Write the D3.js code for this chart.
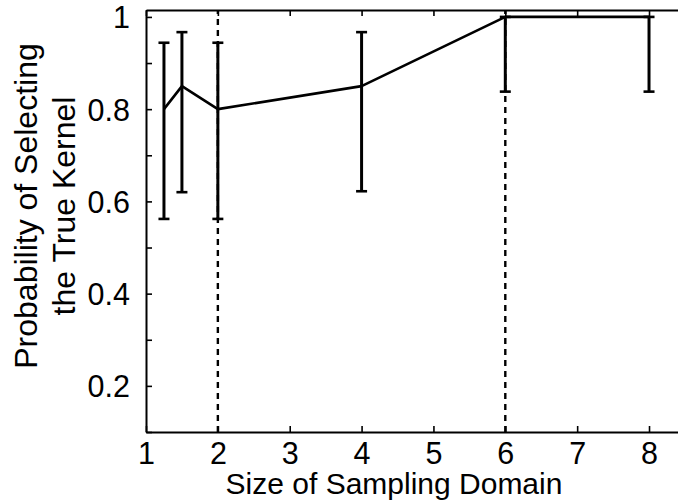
<!DOCTYPE html>
<html>
<head>
<meta charset="utf-8">
<script src="https://cdn.jsdelivr.net/npm/d3@7"></script>
<style>
  body { margin: 0; background: #fff; }
  text { font-family: "Liberation Sans", Arial, sans-serif; fill: #000; }
</style>
</head>
<body>
<div id="chart"></div>
<script>
// values
var domain_size = [1.25, 1.5, 2, 4, 6, 8];
var prob_true   = [0.80, 0.85, 0.80, 0.85, 1.00, 1.00];
var err_low     = [0.562, 0.62, 0.562, 0.622, 0.838, 0.838];
var err_high    = [0.944, 0.967, 0.944, 0.967, 1.00, 1.00];
var dashed_at   = [2, 6];
var x_ticks     = [1, 2, 3, 4, 5, 6, 7, 8];
var y_ticks     = [0.1, 0.2, 0.3, 0.4, 0.5, 0.6, 0.7, 0.8, 0.9, 1.0];
var y_labels    = [0.2, 0.4, 0.6, 0.8, 1];

var svg_width = 678;
var svg_height = 502;
var margin = { top: 10, left: 146, bottom: 70 };

var svg = d3.select("#chart").append("svg")
            .attr("width", svg_width)
            .attr("height", svg_height);

var x_scale = d3.scaleLinear()
                .domain([1, 8.45])
                .range([margin.left, margin.left + 7.45 * 71.86]);
var y_scale = d3.scaleLinear()
                .domain([0.1, 1.015])
                .range([svg_height - margin.bottom, margin.top]);

var x0 = x_scale.range()[0], x1 = x_scale.range()[1];
var y0 = y_scale.range()[0], y1 = y_scale.range()[1];

// axes, ticks pointing inward like matlab
var fmt = function(d) { return y_labels.indexOf(+d.toFixed(1)) >= 0 ? d3.format("")(+d.toFixed(1)) : ""; };

var bottom = svg.append("g")
     .attr("transform", `translate(0, ${y0})`)
     .call(d3.axisBottom(x_scale).tickValues(x_ticks).tickSizeInner(-6).tickSizeOuter(0).tickPadding(10));
var top_ax = svg.append("g")
     .attr("transform", `translate(0, ${y1})`)
     .call(d3.axisTop(x_scale).tickValues(x_ticks).tickSizeInner(-6).tickSizeOuter(0).tickFormat(""));
var left = svg.append("g")
     .attr("transform", `translate(${x0}, 0)`)
     .call(d3.axisLeft(y_scale).tickValues(y_ticks).tickSizeInner(-6).tickSizeOuter(0).tickPadding(16).tickFormat(fmt));

[bottom, top_ax, left].forEach(function(g) {
  g.select(".domain").attr("stroke", "#000").attr("stroke-width", 2);
  g.selectAll(".tick line").attr("stroke", "#000").attr("stroke-width", 1.6);
  g.selectAll(".tick text").style("font-size", "30.5px").attr("fill", "#000");
});
left.selectAll(".tick text").attr("dy", "0.36em");
bottom.selectAll(".tick text").attr("dy", "0.72em");

// dashed vertical guides
svg.selectAll(".guide")
   .data(dashed_at)
   .enter().append("line")
   .attr("x1", function(d) { return x_scale(d); })
   .attr("x2", function(d) { return x_scale(d); })
   .attr("y1", y0)
   .attr("y2", y1)
   .attr("stroke", "#000")
   .attr("stroke-width", 2.4)
   .attr("stroke-dasharray", "6,5");

var pts = domain_size.map(function(d, i) {
  return { x: d, y: prob_true[i], lo: err_low[i], hi: err_high[i] };
});

// error bars
var bars = svg.selectAll(".err").data(pts).enter().append("g");
bars.append("line")
    .attr("x1", function(d) { return x_scale(d.x); })
    .attr("x2", function(d) { return x_scale(d.x); })
    .attr("y1", function(d) { return y_scale(d.lo); })
    .attr("y2", function(d) { return y_scale(d.hi); })
    .attr("stroke", "#000").attr("stroke-width", 3);
["lo", "hi"].forEach(function(k) {
  bars.append("line")
      .attr("x1", function(d) { return x_scale(d.x) - 5.5; })
      .attr("x2", function(d) { return x_scale(d.x) + 5.5; })
      .attr("y1", function(d) { return y_scale(d[k]); })
      .attr("y2", function(d) { return y_scale(d[k]); })
      .attr("stroke", "#000").attr("stroke-width", 2.6);
});

var line = d3.line()
  .x(function(d) { return x_scale(d.x); })
  .y(function(d) { return y_scale(d.y); });

svg.append("path")
   .datum(pts)
   .attr("fill", "none")
   .attr("stroke", "#000")
   .attr("stroke-width", 2.6)
   .attr("stroke-linejoin", "round")
   .attr("d", line);

// axis titles
svg.append("text")
   .attr("x", 394)
   .attr("y", 494)
   .attr("text-anchor", "middle")
   .style("font-size", "30px")
   .text("Size of Sampling Domain");

var ylab = svg.append("text")
   .attr("transform", "translate(0, 206) rotate(-90)")
   .attr("text-anchor", "middle")
   .style("font-size", "32px");
ylab.append("tspan").attr("x", 0).attr("y", 37).text("Probability of Selecting");
ylab.append("tspan").attr("x", 0).attr("y", 75).text("the True Kernel");
</script>
</body>
</html>
